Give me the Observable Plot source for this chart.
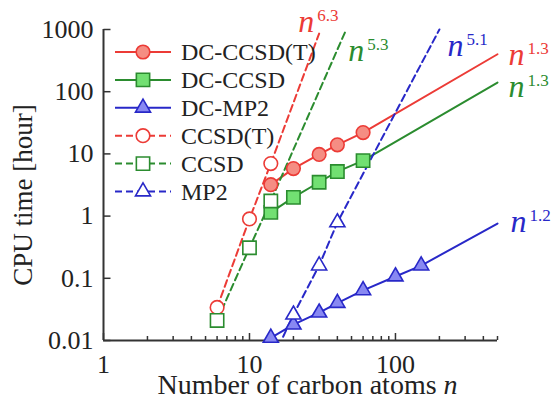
<!DOCTYPE html>
<html><head><meta charset="utf-8">
<script src="https://cdn.jsdelivr.net/npm/d3@7"></script>
<script src="https://cdn.jsdelivr.net/npm/@observablehq/plot@0.6"></script>
<style>
body{margin:0;background:#fff;}
#chart{position:relative;width:552px;height:401px;font-family:"Liberation Serif","Times New Roman",serif;}
#legend{position:absolute;left:0;top:0;pointer-events:none;}
</style></head><body><div id="chart"></div>
<script>
// ---- tick values ----
const xMajor = [1, 10, 100];
const xMinor = [2, 3, 4, 5, 6, 7, 8, 9, 20, 30, 40, 50, 60, 70, 80, 90, 200, 300, 400, 500];
const yTicks = [0.01, 0.1, 1, 10, 100, 1000];

// ---- series ----
const seriesNames = ["DC-CCSD(T)", "DC-CCSD", "DC-MP2", "CCSD(T)", "CCSD", "MP2"];

const dcCcsdtN = [14, 20, 30, 40, 60];
const dcCcsdtT = [3.2, 5.8, 9.8, 14, 22];
const dcCcsdN = [14, 20, 30, 40, 60];
const dcCcsdT = [1.15, 2.0, 3.5, 5.2, 7.8];
const dcMp2N = [14, 20, 30, 40, 60, 100, 150];
const dcMp2T = [0.011, 0.018, 0.028, 0.040, 0.064, 0.107, 0.16];
const ccsdtN = [6, 10, 14];
const ccsdtT = [0.034, 0.9, 7.0];
const ccsdN = [6, 10, 14];
const ccsdT = [0.021, 0.31, 1.75];
const mp2N = [20, 30, 40];
const mp2T = [0.026, 0.16, 0.79];

// scaling-fit lines as drawn in the figure (start / end)
const fitStartN = [14, 14, 14, 6, 6, 17];
const fitStartT = [3.2, 1.15, 0.011, 0.034, 0.021, 0.0115];
const fitEndN = [500, 500, 500, 30, 46, 200];
const fitEndT = [400, 140, 0.76, 860, 1000, 1000];
const fitExponents = ["1.3", "1.3", "1.2", "6.3", "5.3", "5.1"];

// ---- styles ----
const RED = "#ec3b36", GREEN = "#2b8c2f", BLUE = "#2828c8";
const strokes = [RED, GREEN, BLUE, RED, GREEN, BLUE];
const fills = ["#f58d83", "#72e072", "#8888f2", "white", "white", "white"];
const symbols = ["circle", "square", "triangle", "circle", "square", "triangle"];
const radii = [6.8, 7.5, 5.6, 6.8, 7.5, 5.6];
const dashed = [false, false, false, true, true, true];
const labelOffsets = [[11, 0], [11, 4], [13, -2], [-21, -12], [2, 21], [8, 16]];

const seriesN = [dcCcsdtN, dcCcsdN, dcMp2N, ccsdtN, ccsdN, mp2N];
const seriesT = [dcCcsdtT, dcCcsdT, dcMp2T, ccsdtT, ccsdT, mp2T];

const FONT = '"Liberation Serif","Times New Roman",serif';
const AXIS = "#333";

// layout
const W = 552, H = 401, ML = 103, MR = 55, MT = 29, MB = 61;
const xDomain = [1, 500], yDomain = [0.01, 1000];
// inward tick lengths expressed through the log scales (pixels per decade)
const pxPerDecX = (W - ML - MR) / Math.log10(xDomain[1] / xDomain[0]);
const pxPerDecY = (H - MT - MB) / Math.log10(yDomain[1] / yDomain[0]);
const upBy = (v, px) => v * Math.pow(10, px / pxPerDecY);
const rightBy = (v, px) => v * Math.pow(10, px / pxPerDecX);

const marks = [];
seriesNames.forEach((name, i) => {
  const pts = seriesN[i].map((n, k) => ({n, t: seriesT[i][k]}));
  const line = [];
  if (fitStartN[i] < pts[0].n) line.push({n: fitStartN[i], t: fitStartT[i]});
  line.push(...pts);
  line.push({n: fitEndN[i], t: fitEndT[i]});
  marks.push(Plot.line(line, {x: "n", y: "t", stroke: strokes[i], strokeWidth: 2,
    strokeDasharray: dashed[i] ? "7,4" : null}));
});
seriesNames.forEach((name, i) => {
  const pts = seriesN[i].map((n, k) => ({n, t: seriesT[i][k]}));
  marks.push(Plot.dot(pts, {x: "n", y: "t", symbol: symbols[i], r: radii[i],
    fill: fills[i], stroke: strokes[i], strokeWidth: 1.6}));
});
seriesNames.forEach((name, i) => {
  marks.push(Plot.text([{n: fitEndN[i], t: fitEndT[i], s: "n^" + fitExponents[i]}], {
    x: "n", y: "t", text: "s", dx: labelOffsets[i][0], dy: labelOffsets[i][1],
    textAnchor: "start", fill: strokes[i], fontSize: 32, fontStyle: "italic"}));
});

const chart = Plot.plot({
  width: W, height: H,
  marginLeft: ML, marginRight: MR, marginTop: MT, marginBottom: MB,
  x: {type: "log", domain: xDomain},
  y: {type: "log", domain: yDomain},
  style: {fontFamily: FONT, fontSize: "26px", color: "#222", background: "white", overflow: "visible"},
  marks: [
    Plot.axisX(xMajor, {tickSize: 0, tickPadding: 14, tickFormat: d => String(d), label: null}),
    Plot.axisY(yTicks, {tickSize: 0, tickPadding: 10, tickFormat: d => String(d), label: null}),
    Plot.ruleX(xMinor, {x: d => d, y1: yDomain[0], y2: upBy(yDomain[0], 4), stroke: AXIS, strokeWidth: 1.5}),
    Plot.ruleX(xMajor, {x: d => d, y1: yDomain[0], y2: upBy(yDomain[0], 7), stroke: AXIS, strokeWidth: 1.5}),
    Plot.link(yTicks, {x1: () => xDomain[0], x2: () => rightBy(xDomain[0], 7), y1: d => d, y2: d => d,
      stroke: AXIS, strokeWidth: 1.5}),
    Plot.ruleX([1], {stroke: AXIS, strokeWidth: 2}),
    Plot.ruleY([0.01], {stroke: AXIS, strokeWidth: 2}),
    Plot.text(["CPU time [hour]"], {frameAnchor: "left", rotate: -90, textAnchor: "middle", lineAnchor: "middle",
      dx: -80, dy: 10, fontSize: 27, fill: "#222"}),
    Plot.text(["Number of carbon atoms "], {frameAnchor: "bottom", lineAnchor: "middle", textAnchor: "middle",
      dx: 7, dy: 45, fontSize: 28, fill: "#222"}),
    ...marks
  ]
});
document.getElementById("chart").appendChild(chart);

// italic n in x label, superscripts in scaling labels
d3.select(chart).selectAll("text").each(function() {
  const s = this.textContent;
  if (s === "Number of carbon atoms ") {
    d3.select(this).append("tspan").attr("font-style", "italic").text("n");
  } else if (s.startsWith("n^")) {
    const exp = s.slice(2);
    this.textContent = "n";
    d3.select(this).append("tspan").attr("font-style", "normal").attr("font-size", 17)
      .attr("dx", 3).attr("dy", -11).text(exp);
  }
});

// legend
const leg = d3.select("#chart").append("svg").attr("id", "legend").attr("width", W).attr("height", H);
seriesNames.forEach((name, i) => {
  const y = 52 + 27.9 * i;
  leg.append("line").attr("x1", 115).attr("x2", 171).attr("y1", y).attr("y2", y)
    .attr("stroke", strokes[i]).attr("stroke-width", 2).attr("stroke-dasharray", dashed[i] ? "7,4" : null);
  const type = {circle: d3.symbolCircle, square: d3.symbolSquare, triangle: d3.symbolTriangle}[symbols[i]];
  leg.append("path").attr("d", d3.symbol(type, Math.PI * radii[i] * radii[i])())
    .attr("transform", `translate(143,${y})`).attr("fill", fills[i]).attr("stroke", strokes[i]).attr("stroke-width", 1.6);
  leg.append("text").attr("x", 181).attr("y", y).attr("dy", "0.34em").attr("font-size", 24)
    .attr("font-family", FONT).attr("fill", "#222").text(name);
});
</script></body></html>
